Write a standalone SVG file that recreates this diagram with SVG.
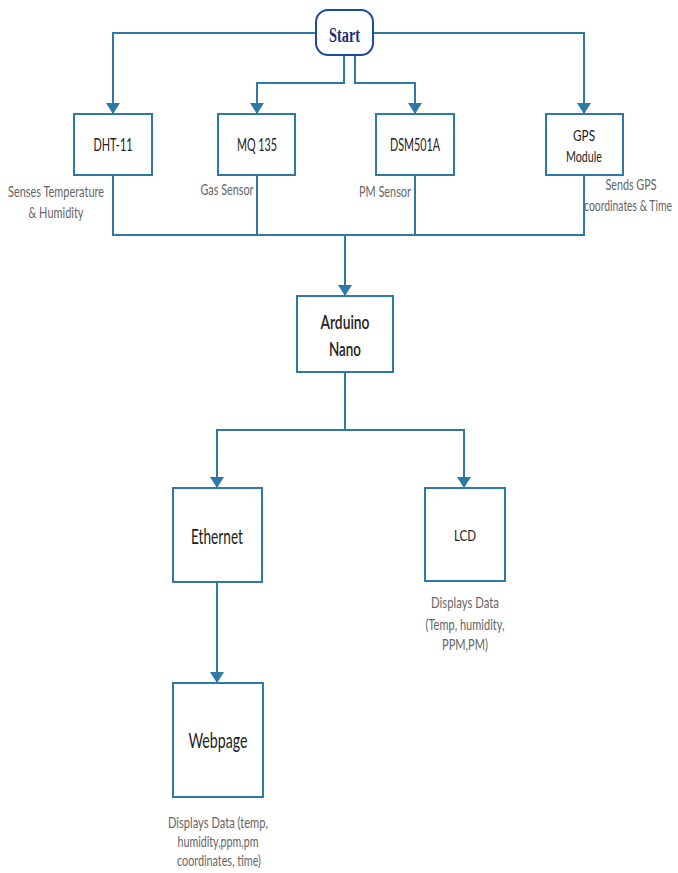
<svg xmlns="http://www.w3.org/2000/svg" width="678" height="873" viewBox="0 0 678 873">
<defs>
<marker id="ah" viewBox="0 0 11 14" refX="11" refY="7" markerWidth="11" markerHeight="14" markerUnits="userSpaceOnUse" orient="auto">
<path d="M0,0 L11,7 L0,14 Z" fill="#2f79a6"/>
</marker>
<style>
.box{fill:#fff;stroke:#2f79a6;stroke-width:2}
.ln{fill:none;stroke:#2f79a6;stroke-width:2}
.t{font-family:Lato,"Liberation Sans",sans-serif;fill:#222;text-anchor:middle}
.c{font-family:Lato,"Liberation Sans",sans-serif;fill:#666;font-size:15px;text-anchor:middle}
.c2{font-family:Lato,"Liberation Sans",sans-serif;fill:#666;font-size:16px;text-anchor:middle}
</style>
</defs>
<rect width="678" height="873" fill="#fff"/>
<g id="connectors">
<path class="ln" d="M316,33 H113 V114" marker-end="url(#ah)"/>
<path class="ln" d="M372,33 H584 V114" marker-end="url(#ah)"/>
<path class="ln" d="M344,55 V83 H257 V114" marker-end="url(#ah)"/>
<path class="ln" d="M355,55 V83 H415 V114" marker-end="url(#ah)"/>
<path class="ln" d="M113,175 V235 H584 V175"/>
<path class="ln" d="M257,175 V235"/>
<path class="ln" d="M415,175 V235"/>
<path class="ln" d="M345,235 V296" marker-end="url(#ah)"/>
<path class="ln" d="M345,372 V430 H217 V488" marker-end="url(#ah)"/>
<path class="ln" d="M345,430 H464 V488" marker-end="url(#ah)"/>
<path class="ln" d="M217,582 V683" marker-end="url(#ah)"/>
</g>
<g id="start">
<rect x="316" y="10" width="57" height="45" rx="12" ry="12" fill="#fff" stroke="#1f48a0" stroke-width="2"/>
<text x="344.5" y="42" font-family="'Liberation Serif',serif" font-weight="bold" font-size="20" fill="#1f2f70" text-anchor="middle" textLength="31" lengthAdjust="spacingAndGlyphs">Start</text>
</g>
<g id="dht11">
<rect class="box" x="74" y="114" width="78" height="61"/>
<text class="t" x="113" y="151" font-size="17" textLength="39" lengthAdjust="spacingAndGlyphs">DHT-11</text>
<text class="c" x="56" y="197" textLength="96" lengthAdjust="spacingAndGlyphs">Senses Temperature</text>
<text class="c" x="56" y="218" textLength="55" lengthAdjust="spacingAndGlyphs">&amp; Humidity</text>
</g>
<g id="mq135">
<rect class="box" x="218" y="114" width="77" height="61"/>
<text class="t" x="257" y="151" font-size="17" textLength="40" lengthAdjust="spacingAndGlyphs">MQ 135</text>
<text class="c" x="227" y="195" textLength="53" lengthAdjust="spacingAndGlyphs">Gas Sensor</text>
</g>
<g id="dsm501a">
<rect class="box" x="376" y="114" width="78" height="61"/>
<text class="t" x="415" y="151" font-size="17" textLength="50" lengthAdjust="spacingAndGlyphs">DSM501A</text>
<text class="c" x="385" y="197" textLength="52" lengthAdjust="spacingAndGlyphs">PM Sensor</text>
</g>
<g id="gps">
<rect class="box" x="546" y="114" width="77" height="61"/>
<text class="t" x="584" y="141" font-size="16" textLength="22" lengthAdjust="spacingAndGlyphs">GPS</text>
<text class="t" x="584" y="162" font-size="16" textLength="36" lengthAdjust="spacingAndGlyphs">Module</text>
<text class="c" x="631" y="190" textLength="51" lengthAdjust="spacingAndGlyphs">Sends GPS</text>
<text class="c" transform="translate(628,211) scale(0.72,1)" x="0" y="0" textLength="122" lengthAdjust="spacingAndGlyphs">coordinates &amp; Time</text>
</g>
<g id="arduino">
<rect class="box" x="297" y="296" width="96" height="76"/>
<text class="t" x="345" y="329" font-size="20" font-weight="600" textLength="49" lengthAdjust="spacingAndGlyphs">Arduino</text>
<text class="t" x="345" y="356" font-size="20" font-weight="600" textLength="32" lengthAdjust="spacingAndGlyphs">Nano</text>
</g>
<g id="ethernet">
<rect class="box" x="173" y="488" width="89" height="94"/>
<text class="t" x="217" y="544" font-size="21" textLength="52" lengthAdjust="spacingAndGlyphs">Ethernet</text>
</g>
<g id="lcd">
<rect class="box" x="425" y="488" width="80" height="93"/>
<text class="t" x="465" y="541" font-size="16" textLength="22" lengthAdjust="spacingAndGlyphs">LCD</text>
<text class="c2" x="465" y="608" textLength="68" lengthAdjust="spacingAndGlyphs">Displays  Data</text>
<text class="c2" x="465" y="630" textLength="79" lengthAdjust="spacingAndGlyphs">(Temp, humidity,</text>
<text class="c2" x="465" y="650" textLength="46" lengthAdjust="spacingAndGlyphs">PPM,PM)</text>
</g>
<g id="webpage">
<rect class="box" x="173" y="683" width="90" height="114"/>
<text class="t" x="218" y="748" font-size="22" textLength="59" lengthAdjust="spacingAndGlyphs">Webpage</text>
<text class="c2" x="218" y="828" textLength="100" lengthAdjust="spacingAndGlyphs">Displays  Data (temp,</text>
<text class="c2" x="218" y="847" textLength="81" lengthAdjust="spacingAndGlyphs">humidity,ppm,pm</text>
<text class="c2" x="219" y="866" textLength="84" lengthAdjust="spacingAndGlyphs">coordinates, time)</text>
</g>
</svg>
